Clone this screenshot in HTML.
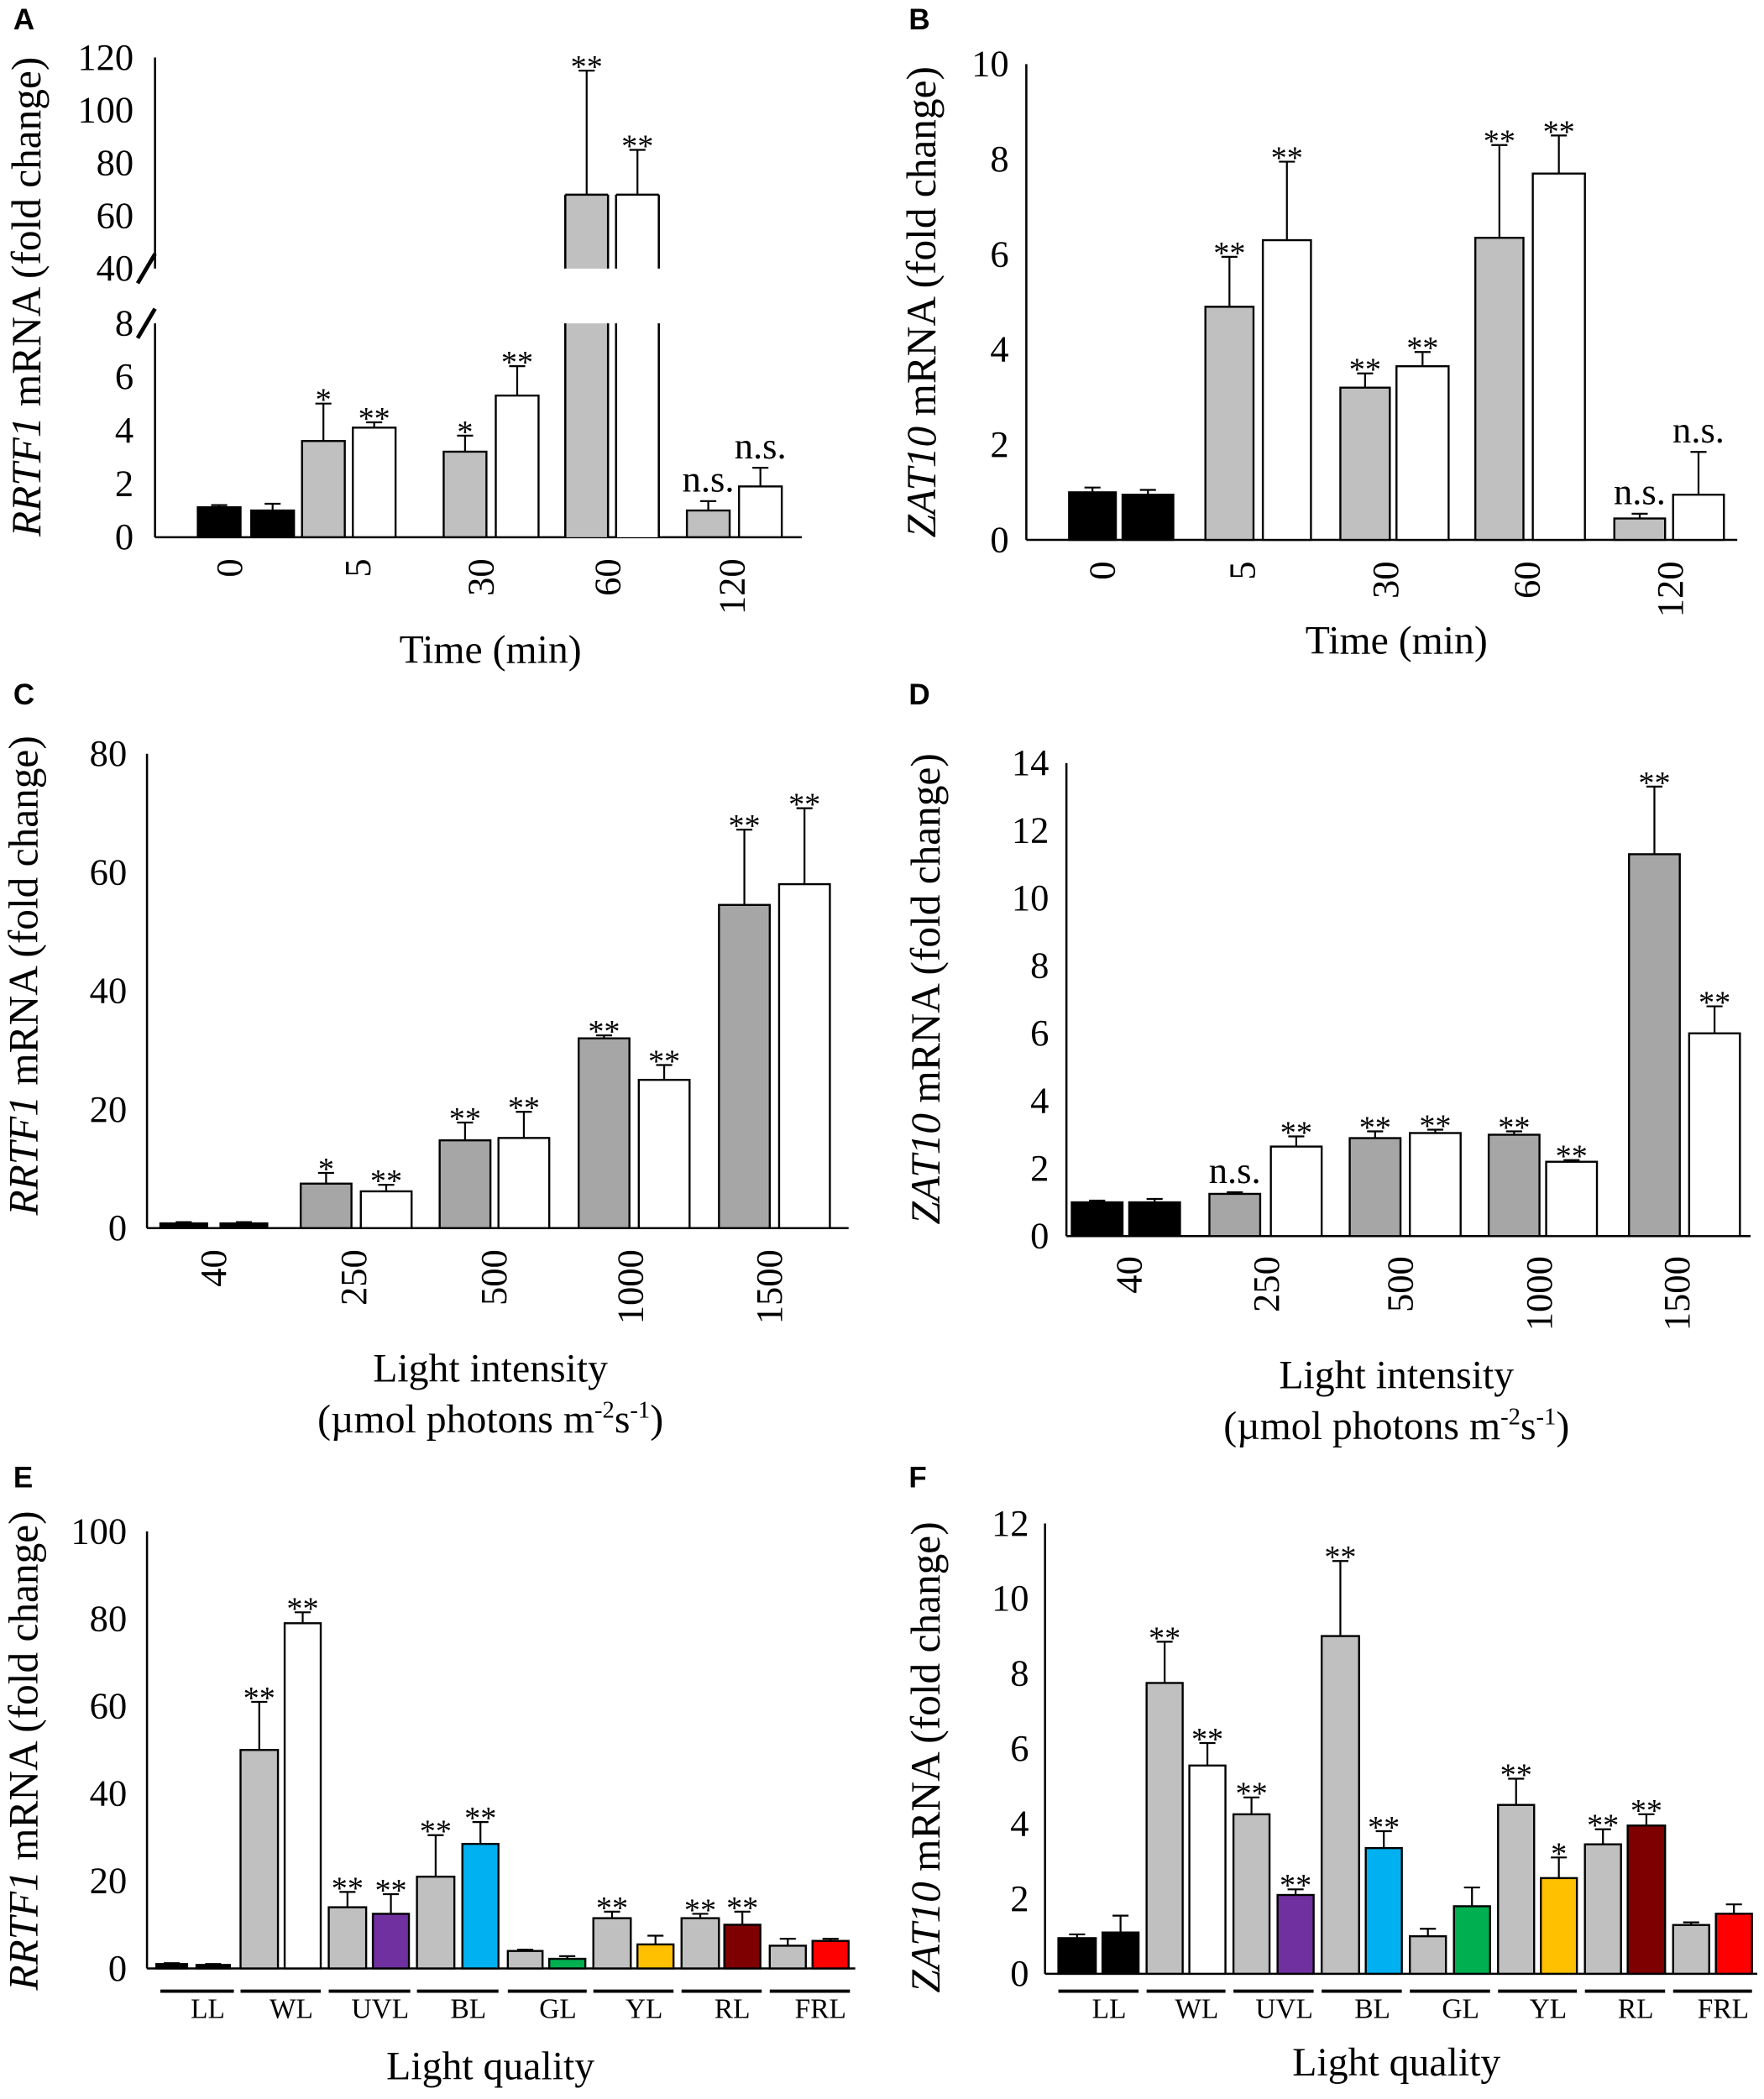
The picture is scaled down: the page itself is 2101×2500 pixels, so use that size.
<!DOCTYPE html>
<html><head><meta charset="utf-8"><style>html,body{margin:0;padding:0;background:#fff}svg{display:block}</style></head>
<body>
<svg id="s" xmlns="http://www.w3.org/2000/svg" width="2101" height="2500" viewBox="0 0 1320 1570.7" font-family="Liberation Serif, serif"></svg>
<script>
const S=document.getElementById('s');let h='';
function T(x,y,t,o={}){h+=`<text x="${x}" y="${y}" font-size="${o.fs||28}" text-anchor="${o.a||'middle'}" ${o.tr?`transform="${o.tr}"`:''} ${o.fw?`font-weight="${o.fw}"`:''} ${o.ff?`font-family="${o.ff}"`:''} fill="#000">${t}</text>`;}
function L(x1,y1,x2,y2,w=1.6){h+=`<line x1="${x1}" y1="${y1}" x2="${x2}" y2="${y2}" stroke="#000" stroke-width="${w}"/>`;}
function R(x,y,w,hh,f){h+=`<rect x="${x}" y="${y}" width="${w}" height="${hh}" fill="${f}" stroke="#000" stroke-width="1.5"/>`;}
function bars(Y,list){for(const b of list){const [x1,x2,v,e,c,st]=b;const y=Y(v),ye=Y(e);const m=(x1+x2)/2;
 L(m,y,m,ye,1.4);L(m-6,ye,m+6,ye,1.4);R(x1,y,x2-x1,Y(0)-y,c);
 if(st){T(m,ye-(st=='n.s.'?7:-5),st,{fs:st=='n.s.'?28:24});}}}
function rotLab(x,y,t,fs=28){T(x,y,t,{fs,a:'end',tr:`rotate(-90 ${x} ${y})`});}
function ylab(x,y,gene,fs=31){h+=`<text x="${x}" y="${y}" font-size="${fs}" text-anchor="middle" transform="rotate(-90 ${x} ${y})"><tspan font-style="italic">${gene}</tspan> mRNA (fold change)</text>`;}
const G='#c0c0c0',G2='#a6a6a6',K='#000',W='#fff';
[['A',10,22],['B',680,22],['C',10,527],['D',680,527],['E',10,1113],['F',680,1113]].forEach(a=>T(a[1],a[2],a[0],{fs:22,a:'start',fw:'bold',ff:'Liberation Sans, sans-serif'}));
// ---- A
{const Yl=v=>402-20*v,Yu=v=>201-(v-40)*1.975;
 const Y=v=>v<=8?Yl(v):Yu(v);
 L(116,402,600,402);L(116,43,116,201);L(116,242,116,402);
 [0,2,4,6,8].forEach(t=>T(100,Yl(t)+9,t,{a:'end'}));
 [40,60,80,100,120].forEach(t=>T(100,Yu(t)+9,t,{a:'end'}));
 L(103,212,116,190,3);L(103,253,116,231,3);
 bars(Y,[[148,180,1.12,1.2,K],[188,220,1.0,1.25,K],[226,258,3.6,5.0,G,'*'],[264,296,4.1,4.3,W,'**'],[332,364,3.2,3.8,G,'*'],[371,403,5.3,6.4,W,'**'],[514,546,1.0,1.35,G,'n.s.'],[553,585,1.9,2.6,W,'n.s.']]);
 [[423,455,68,115,G],[461,493,68,85,W]].forEach(b=>{const m=(b[0]+b[1])/2;L(m,Yu(b[2]),m,Yu(b[3]),1.4);L(m-6,Yu(b[3]),m+6,Yu(b[3]),1.4);T(m,Yu(b[3])+5,'**',{fs:24});
  h+=`<rect x="${b[0]}" y="${Yu(b[2])}" width="${b[1]-b[0]}" height="${201-Yu(b[2])}" fill="${b[4]}"/><rect x="${b[0]}" y="242" width="${b[1]-b[0]}" height="160" fill="${b[4]}"/>`;
  L(b[0],Yu(b[2]),b[1],Yu(b[2]));L(b[0],Yu(b[2]),b[0],201);L(b[1],Yu(b[2]),b[1],201);L(b[0],242,b[0],402);L(b[1],242,b[1],402);});
 [[172,'0'],[268,'5'],[360,'30'],[455,'60'],[548,'120']].forEach(t=>rotLab(t[0]+9,418,t[1]));
 T(367,496,'Time (min)',{fs:30});ylab(30,222,'RRTF1');}
// ---- B
{const Y=v=>404-35.6*v;L(768,48,768,404);L(768,404,1300,404);
 [0,2,4,6,8,10].forEach(t=>T(755,Y(t)+9,t,{a:'end'}));
 bars(Y,[[800,835,1.0,1.1,K],[840,878,0.95,1.05,K],[902,938,4.9,5.95,G,'**'],[945,981,6.3,7.95,W,'**'],[1003,1040,3.2,3.5,G,'**'],[1045,1084,3.65,3.95,W,'**'],[1104,1140,6.35,8.3,G,'**'],[1147,1186,7.7,8.5,W,'**'],[1208,1246,0.45,0.55,G,'n.s.'],[1252,1290,0.95,1.85,W,'n.s.']]);
 [[825,'0'],[930,'5'],[1037,'30'],[1143,'60'],[1250,'120']].forEach(t=>rotLab(t[0]+9,420,t[1]));
 T(1045,489,'Time (min)',{fs:30});ylab(700,226,'ZAT10');}
// ---- C
{const Y=v=>919-4.4375*v;L(110,564,110,919);L(110,919,635,919);
 [0,20,40,60,80].forEach(t=>T(95,Y(t)+9,t,{a:'end'}));
 bars(Y,[[120,155,0.8,1.0,K],[165,200,0.8,1.0,K],[225,263,7.5,9.3,G2,'*'],[270,308,6.2,7.3,W,'**'],[329,367,14.8,17.8,G2,'**'],[373,411,15.2,19.6,W,'**'],[433,471,32,32.5,G2,'**'],[478,516,25,27.5,W,'**'],[538,576,54.5,67.2,G2,'**'],[583,621,58,70.8,W,'**']]);
 [[160,'40'],[265,'250'],[370,'500'],[472,'1000'],[576,'1500']].forEach(t=>rotLab(t[0]+9,935,t[1]));
 T(367,1034,'Light intensity',{fs:30});T(367,1072,'(µmol photons m<tspan font-size="18" dy="-11">-2</tspan><tspan dy="11">s</tspan><tspan font-size="18" dy="-11">-1</tspan><tspan dy="11">)</tspan>',{fs:30});
 ylab(28,730,'RRTF1');}
// ---- D
{const Y=v=>925-25.29*v;L(798,571,798,925);L(798,925,1310,925);
 [0,2,4,6,8,10,12,14].forEach(t=>T(785,Y(t)+9,t,{a:'end'}));
 bars(Y,[[802,840,1.0,1.05,K],[845,883,1.0,1.1,K],[905,943,1.25,1.3,G2,'n.s.'],[951,989,2.65,2.95,W,'**'],[1010,1048,2.9,3.1,G2,'**'],[1055,1093,3.05,3.15,W,'**'],[1114,1152,3.0,3.1,G2,'**'],[1157,1195,2.2,2.25,W,'**'],[1219,1257,11.3,13.3,G2,'**'],[1264,1302,6.0,6.8,W,'**']]);
 [[845,'40'],[948,'250'],[1048,'500'],[1152,'1000'],[1255,'1500']].forEach(t=>rotLab(t[0]+9,940,t[1]));
 T(1045,1039,'Light intensity',{fs:30});T(1045,1077,'(µmol photons m<tspan font-size="18" dy="-11">-2</tspan><tspan dy="11">s</tspan><tspan font-size="18" dy="-11">-1</tspan><tspan dy="11">)</tspan>',{fs:30});
 ylab(703,740,'ZAT10');}
// ---- E
{const Y=v=>1473-3.27*v;L(110,1146,110,1473);L(110,1473,640,1473);
 [0,20,40,60,80,100].forEach(t=>T(95,Y(t)+9,t,{a:'end'}));
 bars(Y,[[117,140,1.0,1.2,K],[147,172,0.8,1.0,K],[180,208,50,61,G,'**'],[213,240,79,81.5,W,'**'],[246,274,14,17.5,G,'**'],[279,306,12.5,17,'#7030a0','**'],[312,340,21,30.5,G,'**'],[346,373,28.5,33.5,'#00b0f0','**'],[380,406,4,4.3,G],[411,438,2.2,2.8,'#00b050'],[444,472,11.5,13,G,'**'],[477,504,5.5,7.5,'#ffc000'],[510,538,11.5,12.5,G,'**'],[542,569,10,13,'#7f0000','**'],[576,603,5.2,6.8,G],[608,635,6.3,6.8,'#ff0000']]);
 [[120,175,'LL'],[180,240,'WL'],[246,307,'UVL'],[312,373,'BL'],[380,439,'GL'],[444,504,'YL'],[510,570,'RL'],[576,636,'FRL']].forEach(s=>{L(s[0],1490,s[1],1490,2.5);T((s[0]+s[1])/2+8,1510,s[2],{fs:21});});
 T(367,1556,'Light quality',{fs:30});ylab(28,1310,'RRTF1');}
// ---- F
{const Y=v=>1477-28.08*v;L(782,1140,782,1477);L(782,1477,1315,1477);
 [0,2,4,6,8,10,12].forEach(t=>T(770,Y(t)+9,t,{a:'end'}));
 bars(Y,[[792,820,0.95,1.05,K],[825,852,1.1,1.55,K],[858,885,7.75,8.85,G,'**'],[890,917,5.55,6.15,W,'**'],[923,950,4.25,4.7,G,'**'],[956,983,2.1,2.25,'#7030a0','**'],[989,1017,9.0,11.0,G,'**'],[1022,1049,3.35,3.8,'#00b0f0','**'],[1055,1082,1.0,1.2,G],[1088,1115,1.8,2.3,'#00b050'],[1121,1148,4.5,5.2,G,'**'],[1153,1180,2.55,3.1,'#ffc000','*'],[1186,1213,3.45,3.85,G,'**'],[1218,1246,3.95,4.25,'#7f0000','**'],[1252,1279,1.3,1.37,G],[1284,1311,1.6,1.85,'#ff0000']]);
 [[792,852,'LL'],[858,917,'WL'],[923,983,'UVL'],[989,1049,'BL'],[1055,1115,'GL'],[1121,1180,'YL'],[1186,1246,'RL'],[1252,1311,'FRL']].forEach(s=>{L(s[0],1490,s[1],1490,2.5);T((s[0]+s[1])/2+8,1510,s[2],{fs:21});});
 T(1045,1553,'Light quality',{fs:30});ylab(703,1315,'ZAT10');}
S.innerHTML=h;
</script>
</body></html>
